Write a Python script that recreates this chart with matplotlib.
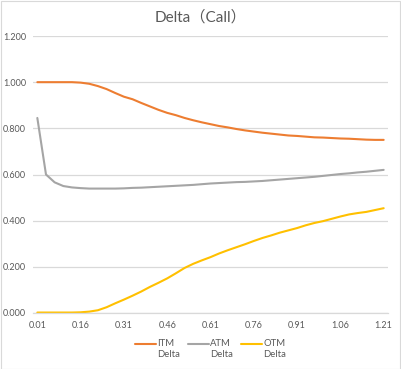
import numpy as np
import matplotlib
matplotlib.use("Agg")
import matplotlib.pyplot as plt
from matplotlib.legend_handler import HandlerLine2D
from matplotlib.patches import Rectangle

# ---- data ----
x_labels = [f"{0.01 + 0.03 * i:.2f}" for i in range(41)]
itm_delta = [1.000, 1.000, 1.000, 1.000, 1.000, 0.998, 0.993, 0.983, 0.970, 0.953,
             0.937, 0.926, 0.910, 0.895, 0.880, 0.867, 0.857, 0.845, 0.835, 0.826,
             0.818, 0.810, 0.804, 0.797, 0.791, 0.786, 0.781, 0.777, 0.773, 0.769,
             0.767, 0.764, 0.761, 0.760, 0.758, 0.756, 0.755, 0.753, 0.751, 0.750,
             0.750]
atm_delta = [0.845, 0.600, 0.566, 0.550, 0.544, 0.541, 0.539, 0.539, 0.539, 0.539,
             0.540, 0.542, 0.543, 0.545, 0.547, 0.549, 0.551, 0.553, 0.555, 0.558,
             0.561, 0.563, 0.565, 0.567, 0.568, 0.570, 0.572, 0.575, 0.578, 0.581,
             0.584, 0.587, 0.590, 0.594, 0.598, 0.602, 0.605, 0.609, 0.612, 0.616,
             0.620]
otm_delta = [0.002, 0.002, 0.002, 0.002, 0.002, 0.003, 0.006, 0.012, 0.025, 0.042,
             0.058, 0.075, 0.093, 0.113, 0.131, 0.150, 0.172, 0.195, 0.213, 0.228,
             0.242, 0.258, 0.272, 0.285, 0.298, 0.312, 0.325, 0.336, 0.348, 0.358,
             0.368, 0.380, 0.390, 0.398, 0.408, 0.418, 0.427, 0.433, 0.438, 0.446,
             0.454]
series_names = ["ITM\nDelta", "ATM\nDelta", "OTM\nDelta"]
y_ticks = [0.0, 0.2, 0.4, 0.6, 0.8, 1.0, 1.2]

colors = ["#ED7D31", "#A5A5A5", "#FFC000"]
text_color = "#595959"
grid_color = "#D9D9D9"

plt.rcParams['font.family'] = ['Lato', 'Noto Sans CJK SC', 'DejaVu Sans']

fig = plt.figure(figsize=(4.01, 3.69), dpi=100)
ax = fig.add_axes([33 / 401, 1 - 313 / 369, (388 - 33) / 401, (313 - 36) / 369])

idx = np.arange(len(x_labels))
for vals, name, c in zip([itm_delta, atm_delta, otm_delta], series_names, colors):
    ax.plot(idx, vals, color=c, lw=1.5, label=name, solid_capstyle='round')

ax.set_xlim(-0.5, len(x_labels) - 0.5)
ax.set_ylim(0, 1.2)
ax.set_yticks(y_ticks)
ax.set_yticklabels([f"{v:.3f}" for v in y_ticks])
tick_pos = idx[::5]
ax.set_xticks(tick_pos)
ax.set_xticklabels([x_labels[i] for i in tick_pos])
ax.tick_params(axis='both', length=0, labelsize=6.5, labelcolor=text_color)
ax.tick_params(axis='y', pad=5)
ax.tick_params(axis='x', pad=6)
ax.grid(axis='y', color=grid_color, lw=0.9)
ax.set_axisbelow(True)
for s in ['top', 'right', 'left']:
    ax.spines[s].set_visible(False)
ax.spines['bottom'].set_color(grid_color)
ax.spines['bottom'].set_linewidth(0.9)

fig.text(0.5, 1 - 17 / 369, "Delta（Call）", ha='center', va='center',
         fontsize=11, color=text_color)


class TopHandler(HandlerLine2D):
    def create_artists(self, legend, orig_handle, xdescent, ydescent, width,
                       height, fontsize, trans):
        arts = super().create_artists(legend, orig_handle, xdescent, ydescent,
                                      width, height, fontsize, trans)
        for a in arts:
            a.set_ydata(np.asarray(a.get_ydata()) + fontsize * 0.55)
        return arts


handles, labels = ax.get_legend_handles_labels()
leg = fig.legend(handles, labels, loc='center', bbox_to_anchor=(0.525, 1 - 349 / 369),
                 ncol=3, frameon=False, fontsize=6.8, labelcolor=text_color,
                 handlelength=2.2, handletextpad=0.1, columnspacing=0.9,
                 handler_map={h: TopHandler() for h in handles})

fig.patches.append(Rectangle((0.5 / 401, 0.5 / 369), 399.5 / 401, 367.5 / 369,
                             transform=fig.transFigure, fill=False,
                             edgecolor=grid_color, lw=0.8))

fig.savefig("out.png", dpi=100, facecolor='white')
